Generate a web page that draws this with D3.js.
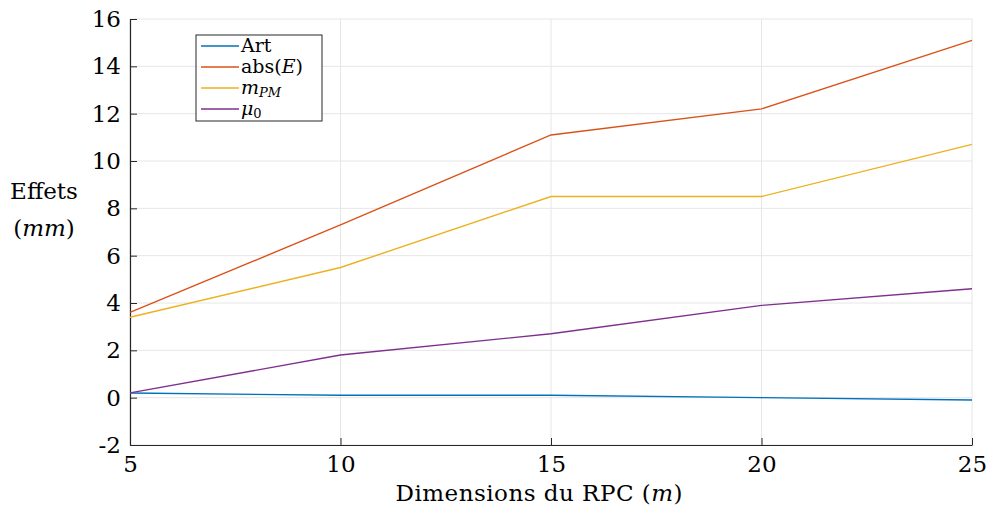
<!DOCTYPE html>
<html><head><meta charset="utf-8">
<script src="https://cdn.jsdelivr.net/npm/d3@7"></script>
<style>body{margin:0;background:#fff}text{font-family:"DejaVu Serif",serif;fill:#000}</style>
</head><body>
<svg id="c" width="989" height="508"></svg>
<script>
const xValues = [5, 10, 15, 20, 25];
const seriesNames = ["Art", "abs(E)", "m_PM", "mu_0"];
const artValues = [0.2, 0.1, 0.1, 0.0, -0.1];
const absEValues = [3.6, 7.3, 11.1, 12.2, 15.1];
const mPMValues = [3.4, 5.5, 8.5, 8.5, 10.7];
const mu0Values = [0.2, 1.8, 2.7, 3.9, 4.6];
const xTicks = [5, 10, 15, 20, 25];
const yTicks = [-2, 0, 2, 4, 6, 8, 10, 12, 14, 16];
const colors = ["#0072BD", "#D95319", "#EDB120", "#7E2F8E"];

const svg = d3.select("#c");
const L = 130, R = 972, T = 19, B = 445;
const x = d3.scaleLinear().domain([5, 25]).range([L, R]);
const y = d3.scaleLinear().domain([-2, 16]).range([B, T]);
const FONT = '"DejaVu Serif",serif';

// grid
const g = svg.append("g");
g.selectAll(".gx").data(xTicks).enter().append("line")
  .attr("x1", d => x(d)).attr("x2", d => x(d)).attr("y1", T).attr("y2", B)
  .attr("stroke", "#e6e6e6").attr("stroke-width", 1);
g.selectAll(".gy").data(yTicks).enter().append("line")
  .attr("x1", L).attr("x2", R).attr("y1", d => y(d)).attr("y2", d => y(d))
  .attr("stroke", "#e6e6e6").attr("stroke-width", 1);

// axes
const xAxis = d3.axisBottom(x).tickValues(xTicks).tickFormat(d3.format("d")).tickSizeInner(-7).tickSizeOuter(0).tickPadding(10);
const yAxis = d3.axisLeft(y).tickValues(yTicks).tickFormat(d => String(d)).tickSizeInner(-7).tickSizeOuter(0).tickPadding(9);
const gx = svg.append("g").attr("transform", `translate(0,${B})`).call(xAxis);
const gy = svg.append("g").attr("transform", `translate(${L},0)`).call(yAxis);
[gx, gy].forEach(a => {
  a.select(".domain").attr("stroke", "#262626").attr("stroke-width", 1.2);
  a.selectAll(".tick line").attr("stroke", "#262626");
  a.selectAll(".tick text").style("font-family", FONT).style("font-size", "23px").attr("fill", "#000");
});
gx.selectAll(".tick text").attr("dy", "0.72em");

// lines
const data = [artValues, absEValues, mPMValues, mu0Values];
const line = d3.line().x((d, i) => x(xValues[i])).y(d => y(d));
svg.append("g").selectAll("path").data(data).enter().append("path")
  .attr("d", line).attr("fill", "none")
  .attr("stroke", (d, i) => colors[i]).attr("stroke-width", 1.4);

// labels
svg.append("text").attr("x", 539).attr("y", 501).attr("text-anchor", "middle")
  .style("font-size", "23px").attr("textLength", 287).attr("lengthAdjust", "spacing")
  .html('Dimensions du RPC (<tspan font-style="italic">m</tspan>)');
svg.append("text").attr("x", 44).attr("y", 199).attr("text-anchor", "middle")
  .style("font-size", "23px").text("Effets");
svg.append("text").attr("x", 44).attr("y", 236).attr("text-anchor", "middle")
  .style("font-size", "23px")
  .html('(<tspan font-style="italic">mm</tspan>)');

// legend
const lg = svg.append("g");
lg.append("rect").attr("x", 196).attr("y", 35).attr("width", 126).attr("height", 86)
  .attr("fill", "#fff").attr("stroke", "#262626").attr("stroke-width", 1);
const ly = [46, 67, 88, 109];
const labelsHtml = [
  'Art',
  'abs(<tspan font-style="italic">E</tspan>)',
  '<tspan font-style="italic">m</tspan><tspan font-style="italic" font-size="13px" dy="3">PM</tspan>',
  '<tspan font-style="italic">μ</tspan><tspan font-size="13px" dy="3">0</tspan>'
];
seriesNames.forEach((n, i) => {
  lg.append("line").attr("x1", 201).attr("x2", 239).attr("y1", ly[i]).attr("y2", ly[i])
    .attr("stroke", colors[i]).attr("stroke-width", 1.4);
  lg.append("text").attr("x", 241).attr("y", ly[i] + 6).style("font-size", "19px").html(labelsHtml[i]);
});
</script>
</body></html>
